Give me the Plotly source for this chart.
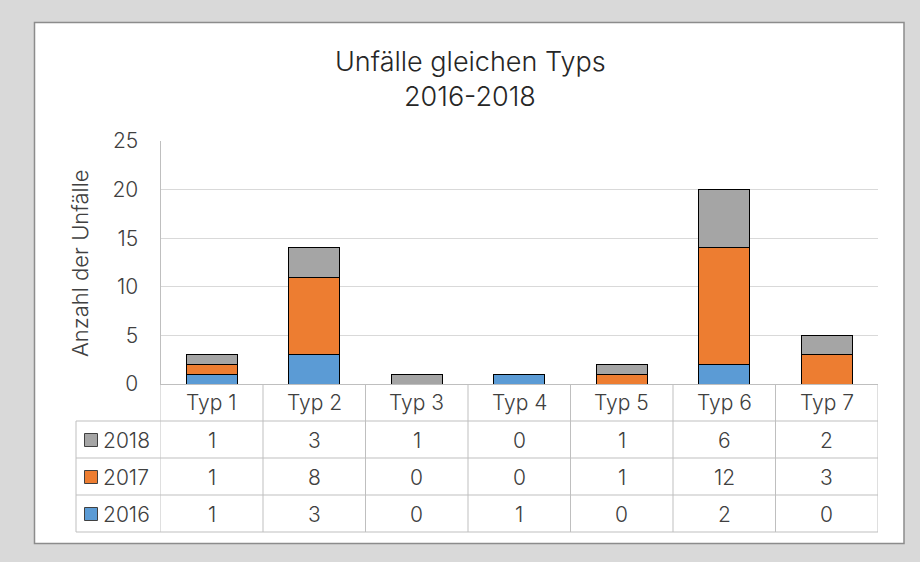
import plotly.graph_objects as go

# data
categories = ["Typ 1", "Typ 2", "Typ 3", "Typ 4", "Typ 5", "Typ 6", "Typ 7"]
years = ["2016", "2017", "2018"]
values_2016 = [1, 3, 0, 1, 0, 2, 0]
values_2017 = [1, 8, 0, 0, 1, 12, 3]
values_2018 = [1, 3, 1, 0, 1, 6, 2]
colors = ["#5b9bd5", "#ed7d31", "#a5a5a5"]
y_ticks = [0, 5, 10, 15, 20, 25]

W, H = 920, 562
FONT = "Inter"
WEIGHT = 300
TXT = "#404040"
LINE = "#bfbfbf"


def px(x):
    return x / W


def py(y):
    return 1 - y / H


def font(size, color=TXT):
    return dict(family=FONT, size=size, color=color, weight=WEIGHT)


series = [values_2016, values_2017, values_2018]

fig = go.Figure()
for name, vals, col in zip(years, series, colors):
    fig.add_trace(go.Bar(x=categories, y=vals, name=name, marker=dict(color=col, line=dict(color="#000000", width=1))))

shapes = []
annotations = []

# white chart box on gray background
shapes.append(dict(type="rect", xref="paper", yref="paper", x0=px(34.5), x1=px(904), y0=py(543.5), y1=py(22.5),
                   fillcolor="white", line=dict(color="#8c8c8c", width=1.5), layer="below"))

# table grid
for y in [421, 458, 495, 532]:
    shapes.append(dict(type="line", xref="paper", yref="paper", x0=px(76), x1=px(878), y0=py(y), y1=py(y),
                       line=dict(color=LINE, width=1)))
shapes.append(dict(type="line", xref="paper", yref="paper", x0=px(76), x1=px(76), y0=py(421), y1=py(532),
                   line=dict(color=LINE, width=1)))
for i in range(len(categories) + 1):
    shapes.append(dict(type="line", xref="x", yref="paper", x0=i - 0.5, x1=i - 0.5, y0=py(384), y1=py(532),
                       line=dict(color=LINE, width=1)))

# header labels
for cat in categories:
    annotations.append(dict(x=cat, xref="x", y=py(402), yref="paper", text=cat, showarrow=False,
                            font=font(21), yanchor="middle"))

# table rows (2018 top, 2016 bottom)
row_centers = [440, 477, 514]
for yc, name, vals, col in zip(row_centers, years[::-1], series[::-1], colors[::-1]):
    shapes.append(dict(type="rect", xref="paper", yref="paper", x0=px(84.5), x1=px(97.5), y0=py(yc + 6.5),
                       y1=py(yc - 6.5), fillcolor=col, line=dict(color="#404040", width=1)))
    annotations.append(dict(x=px(101), xref="paper", y=py(yc), yref="paper", text=name, showarrow=False,
                            xanchor="left", yanchor="middle", font=font(21)))
    for cat, v in zip(categories, vals):
        annotations.append(dict(x=cat, xref="x", y=py(yc), yref="paper", text=str(v), showarrow=False,
                                yanchor="middle", font=font(21)))

# title
annotations.append(dict(x=px(470), y=py(61), xref="paper", yref="paper", text="Unfälle gleichen Typs",
                        showarrow=False, yanchor="middle", font=font(27, "#262626")))
annotations.append(dict(x=px(470), y=py(96), xref="paper", yref="paper", text="2016-2018",
                        showarrow=False, yanchor="middle", font=font(27, "#262626")))

# y axis title
annotations.append(dict(x=px(80), y=py(263), xref="paper", yref="paper", text="Anzahl der Unfälle", textangle=-90,
                        showarrow=False, xanchor="center", yanchor="middle", font=font(22)))

fig.update_layout(
    width=W, height=H,
    margin=dict(l=0, r=0, t=0, b=0, autoexpand=False),
    paper_bgcolor="#d9d9d9",
    plot_bgcolor="rgba(0,0,0,0)",
    barmode="stack",
    bargap=0.5,
    showlegend=False,
    shapes=shapes,
    annotations=annotations,
    xaxis=dict(domain=[px(160.5), px(878)], range=[-0.5, len(categories) - 0.5], showticklabels=False,
               showgrid=False, zeroline=False, showline=True, linecolor=LINE, linewidth=1, fixedrange=True,
               automargin=False),
    yaxis=dict(domain=[py(384), py(141)], range=[0, 25], tickvals=y_ticks, showgrid=True, gridcolor="#d9d9d9",
               gridwidth=1, zeroline=False, showline=True, linecolor=LINE, linewidth=1, ticks="",
               ticklabelstandoff=17, tickfont=font(21), automargin=False, fixedrange=True),
)

# drop the default 8px page margin so the figure sits at the window's top-left corner
fig.write_html("out.html", config={"displayModeBar": False},
               post_script="document.body.style.margin='0';document.body.style.background='#d9d9d9';")
